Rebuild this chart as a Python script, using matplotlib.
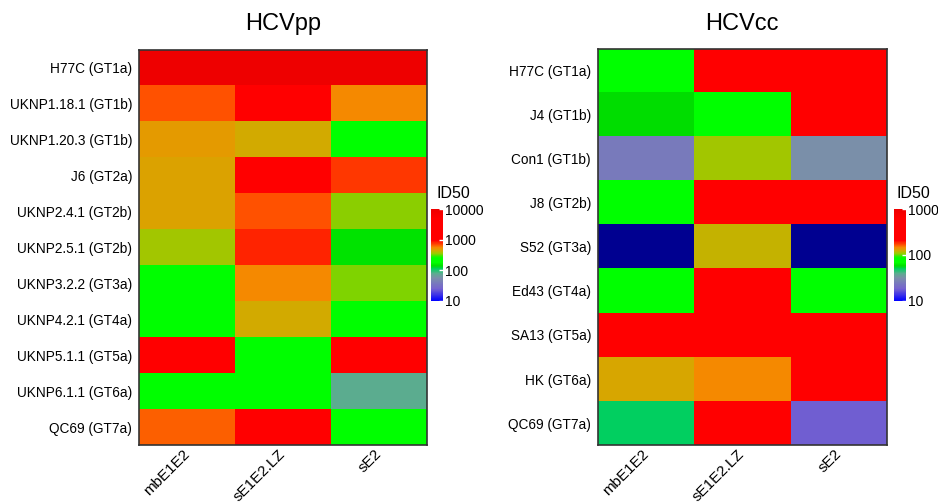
import numpy as np
import matplotlib
matplotlib.use("Agg")
import matplotlib.pyplot as plt
import matplotlib.transforms as mtransforms
from matplotlib.colors import LinearSegmentedColormap, LogNorm

plt.rcParams['font.family'] = ['Liberation Sans', 'DejaVu Sans']

columns = ["mbE1E2", "sE1E2.LZ", "sE2"]

pp_rows = ["H77C (GT1a)", "UKNP1.18.1 (GT1b)", "UKNP1.20.3 (GT1b)", "J6 (GT2a)",
           "UKNP2.4.1 (GT2b)", "UKNP2.5.1 (GT2b)", "UKNP3.2.2 (GT3a)",
           "UKNP4.2.1 (GT4a)", "UKNP5.1.1 (GT5a)", "UKNP6.1.1 (GT6a)", "QC69 (GT7a)"]
pp_vals = [
    [9500, 9500, 9500],
    [676, 2000, 550],
    [495, 447, 195],
    [468, 3000, 750],
    [468, 685, 350],
    [363, 832, 148],
    [182, 550, 339],
    [182, 447, 182],
    [2500, 180, 2200],
    [180, 180, 79],
    [653, 1800, 190],
]

cc_rows = ["H77C (GT1a)", "J4 (GT1b)", "Con1 (GT1b)", "J8 (GT2b)", "S52 (GT3a)",
           "Ed43 (GT4a)", "SA13 (GT5a)", "HK (GT6a)", "QC69 (GT7a)"]
cc_vals = [
    [76, 400, 450],
    [58, 76, 500],
    [25, 110, 32],
    [76, 420, 430],
    [5, 120, 5],
    [76, 400, 76],
    [450, 480, 500],
    [128, 145, 420],
    [50, 450, 18],
]

nodes = [
    (0.00, "#0000FF"),
    (0.13, "#7562D0"),
    (0.25, "#7B8FAA"),
    (0.30, "#5AAE8E"),
    (0.35, "#00D060"),
    (0.38, "#00DD00"),
    (0.42, "#00FF00"),
    (0.47, "#00FF00"),
    (0.52, "#A0C800"),
    (0.55, "#D4AA00"),
    (0.58, "#F58A00"),
    (0.61, "#FF5500"),
    (0.66, "#FF0000"),
    (0.90, "#FF0000"),
    (1.00, "#EE0000"),
]
cmap = LinearSegmentedColormap.from_list("id50", nodes)
cmap.set_under("#000090")
cmap.set_over("#EE0000")

fig = plt.figure(figsize=(9.38, 5.04), dpi=100)
shift = mtransforms.ScaledTranslation(8 / 100, 0, fig.dpi_scale_trans)


def heat(rect, cbrect, rows, vals, vmax, ticks, title, tx, idx):
    ax = fig.add_axes(rect)
    im = ax.imshow(np.array(vals, dtype=float), cmap=cmap,
                   norm=LogNorm(vmin=10, vmax=vmax), aspect='auto',
                   interpolation='nearest')
    ax.set_yticks(range(len(rows)))
    ax.set_yticklabels(rows, fontsize=9.8)
    ax.set_xticks(range(len(columns)))
    ax.set_xticklabels(columns, fontsize=11, rotation=45, ha='right',
                       va='center', rotation_mode='anchor')
    for lab in ax.get_xticklabels():
        lab.set_transform(lab.get_transform() + shift)
    ax.tick_params(axis='y', length=0, pad=5)
    ax.tick_params(axis='x', length=0, pad=5)
    for s in ax.spines.values():
        s.set_color("#333333")
        s.set_linewidth(1.2)
    fig.text(tx, 0.952, title, fontsize=17, ha='center', va='center')

    cax = fig.add_axes(cbrect)
    cb = fig.colorbar(im, cax=cax, ticks=ticks)
    cb.set_ticklabels([str(t) for t in ticks])
    cb.minorticks_off()
    cb.outline.set_visible(False)
    cax.tick_params(direction='in', color='white', length=3, width=1,
                    labelsize=10, pad=1.5)
    fig.text(idx, 0.617, "ID50", fontsize=11.5, ha='left', va='center')
    return ax


heat([0.1482, 0.117, 0.307, 0.784], [0.4595, 0.4028, 0.0128, 0.1825],
     pp_rows, pp_vals, 10000, [10, 100, 1000, 10000], "HCVpp", 0.302, 0.4655)
heat([0.6375, 0.117, 0.308, 0.786], [0.953, 0.4028, 0.0128, 0.1825],
     cc_rows, cc_vals, 1000, [10, 100, 1000], "HCVcc", 0.791, 0.956)

fig.savefig("out.png", dpi=100)
